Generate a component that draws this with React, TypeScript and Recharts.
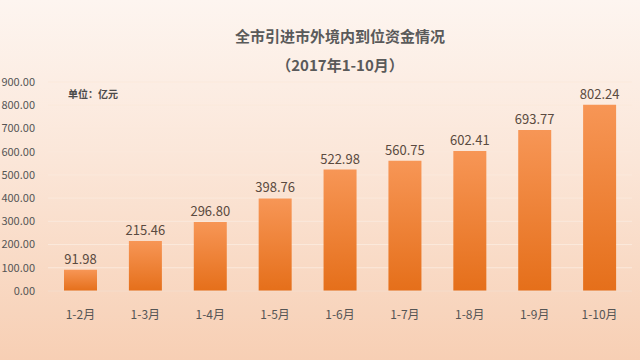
import { BarChart, Bar, XAxis, YAxis, CartesianGrid, LabelList } from "recharts";

const periods = ["1-2月", "1-3月", "1-4月", "1-5月", "1-6月", "1-7月", "1-8月", "1-9月", "1-10月"];
const funds = [91.98, 215.46, 296.8, 398.76, 522.98, 560.75, 602.41, 693.77, 802.24];
const yTicks = [0, 100, 200, 300, 400, 500, 600, 700, 800, 900];

const data = periods.map((p, i) => ({ period: p, value: funds[i] }));

const font = '"Noto Sans CJK SC", "Noto Sans", sans-serif';

export default function App() {
  return (
    <div
      style={{
        position: "relative",
        width: 640,
        height: 360,
        background: "linear-gradient(180deg, #fdf5f0 0%, #fbe6d8 45%, #f7cfb4 100%)",
        fontFamily: font,
      }}
    >
      <style>{`body{margin:0}`}</style>
      <div
        style={{
          position: "absolute",
          top: 25,
          left: 0,
          width: 680,
          textAlign: "center",
          fontSize: 15,
          fontWeight: 700,
          color: "#5a5a5a",
          lineHeight: "22px",
        }}
      >
        全市引进市外境内到位资金情况
      </div>
      <div
        style={{
          position: "absolute",
          top: 54,
          left: 0,
          width: 680,
          textAlign: "center",
          fontSize: 15,
          fontWeight: 700,
          color: "#5a5a5a",
          lineHeight: "22px",
        }}
      >
        （2017年1-10月）
      </div>
      <div
        style={{
          position: "absolute",
          top: 86,
          left: 68,
          fontSize: 10,
          fontWeight: 700,
          color: "#4a4a4a",
        }}
      >
        单位：亿元
      </div>
      <BarChart
        width={640}
        height={360}
        data={data}
        margin={{ top: 82, right: 8, bottom: 39, left: 0 }}
        barCategoryGap="25%"
        style={{ position: "absolute", top: 0, left: 0 }}
      >
        <defs>
          <linearGradient id="barFill" x1="0" y1="0" x2="0" y2="1">
            <stop offset="0%" stopColor="#f79656" />
            <stop offset="100%" stopColor="#e56f1a" />
          </linearGradient>
        </defs>
        <CartesianGrid vertical={false} stroke="#fbe9dc" strokeWidth={1} />
        <XAxis
          dataKey="period"
          axisLine={{ stroke: "#f3d3bd" }}
          tickLine={false}
          tickSize={0}
          tickMargin={19}
          tick={{ fill: "#555", fontSize: 12, fontFamily: font }}
          interval={0}
        />
        <YAxis
          width={48}
          domain={[0, 900]}
          ticks={yTicks}
          axisLine={false}
          tickLine={false}
          tickSize={0}
          tickMargin={13}
          tickFormatter={(v: number) => v.toFixed(2)}
          tick={{ fill: "#555", fontSize: 11, fontFamily: font }}
        />
        <Bar dataKey="value" fill="url(#barFill)" barSize={33} isAnimationActive={false}>
          <LabelList
            dataKey="value"
            position="top"
            offset={6}
            formatter={(v: number) => v.toFixed(2)}
            style={{ fill: "#5a4a40", fontSize: 13, fontFamily: font }}
          />
        </Bar>
      </BarChart>
    </div>
  );
}
